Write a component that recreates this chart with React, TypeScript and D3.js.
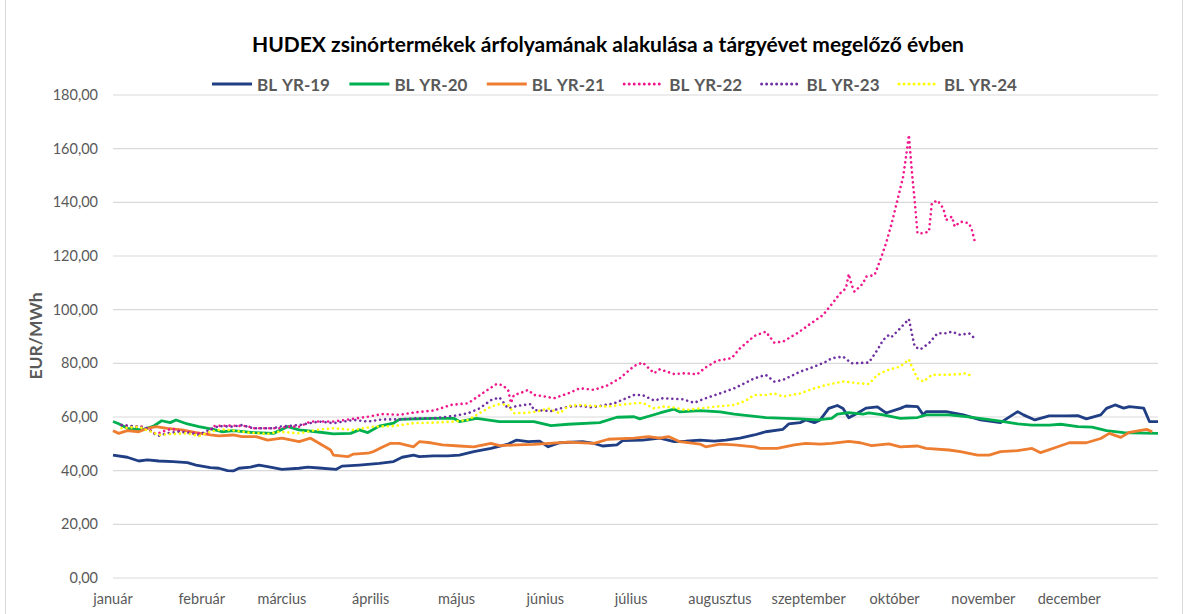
import React from 'react';
import * as d3 from 'd3';

// ---- data (day of year, EUR/MWh) ----
const months = ['január', 'február', 'március', 'április', 'május', 'június', 'július', 'augusztus', 'szeptember', 'október', 'november', 'december'];
const yTicks = [0, 20, 40, 60, 80, 100, 120, 140, 160, 180];

const yr19: [number, number][] = [
  [0, 45.8], [5, 45.0], [9, 43.6], [12, 44.0], [16, 43.6], [21, 43.4], [26, 43.0], [29, 42.1], [34, 41.1], [37, 40.9],
  [40, 40.0], [42, 39.9], [44, 40.9], [48, 41.3], [51, 42.1], [54, 41.5], [59, 40.5], [65, 40.9], [68, 41.3], [72, 41.0],
  [78, 40.5], [80, 41.7], [86, 42.1], [93, 42.7], [98, 43.4], [101, 45.0], [105, 45.8], [107, 45.2], [112, 45.5], [117, 45.5],
  [121, 45.8], [126, 47.1], [132, 48.3], [138, 49.9], [141, 51.4], [145, 50.8], [149, 51.0], [152, 48.9], [156, 50.4], [164, 50.8],
  [168, 50.2], [171, 49.2], [176, 49.6], [178, 51.2], [185, 51.4], [191, 52.1], [196, 50.8], [200, 51.0], [205, 51.4], [210, 51.0],
  [214, 51.4], [219, 52.1], [224, 53.3], [228, 54.5], [234, 55.4], [236, 57.4], [240, 57.9], [242, 58.9], [245, 57.9], [247, 58.9],
  [250, 63.2], [253, 64.3], [255, 63.2], [257, 59.7], [260, 61.4], [263, 63.3], [267, 63.8], [270, 61.5], [275, 63.2], [277, 64.1],
  [281, 63.9], [283, 60.8], [284, 62.0], [291, 62.0], [297, 60.8], [303, 58.9], [310, 57.9], [316, 62.0], [318, 60.8], [322, 58.9],
  [327, 60.4], [333, 60.4], [337, 60.5], [340, 59.3], [345, 60.8], [347, 63.2], [350, 64.5], [353, 63.3], [355, 63.9], [360, 63.3],
  [362, 58.3], [365, 58.3],
];

const yr20: [number, number][] = [
  [0, 58.3], [2, 57.5], [5, 55.8], [10, 55.2], [14, 56.5], [17, 58.6], [20, 57.9], [22, 58.9], [26, 57.4], [30, 56.4],
  [35, 55.4], [38, 54.5], [42, 54.9], [49, 54.2], [56, 53.9], [61, 56.4], [65, 55.2], [71, 54.5], [77, 53.7], [83, 53.9],
  [86, 55.2], [89, 54.2], [93, 56.6], [98, 57.7], [100, 59.1], [112, 59.5], [119, 59.5], [121, 58.3], [127, 59.5], [135, 58.3],
  [147, 58.3], [153, 56.8], [159, 57.3], [170, 57.9], [176, 59.9], [182, 60.1], [184, 59.3], [191, 61.5], [196, 62.9], [198, 61.9],
  [205, 62.4], [212, 61.9], [217, 61.1], [228, 59.8], [240, 59.3], [246, 58.9], [251, 59.5], [253, 61.1], [257, 61.6], [262, 61.1],
  [264, 61.5], [269, 60.8], [275, 59.5], [281, 59.8], [284, 60.8], [292, 60.8], [298, 60.1], [304, 59.3], [310, 58.5], [316, 57.4],
  [321, 57.0], [327, 57.0], [331, 57.3], [337, 56.4], [342, 56.2], [347, 54.9], [353, 54.2], [356, 54.1], [365, 53.9],
];

const yr21: [number, number][] = [
  [0, 54.9], [2, 53.9], [5, 54.9], [9, 54.5], [12, 55.8], [15, 56.4], [19, 55.8], [24, 55.2], [29, 54.2], [34, 53.3],
  [37, 53.0], [42, 53.3], [45, 52.7], [50, 52.7], [54, 51.4], [59, 52.1], [65, 50.8], [69, 52.1], [72, 50.2], [76, 47.7],
  [77, 45.8], [82, 45.2], [84, 46.2], [89, 46.5], [91, 47.1], [94, 48.7], [97, 50.2], [100, 50.2], [105, 48.9], [107, 50.8],
  [111, 50.4], [115, 49.6], [121, 49.2], [126, 48.9], [132, 50.2], [135, 49.3], [141, 49.6], [147, 49.8], [159, 50.6], [168, 50.2],
  [173, 51.7], [182, 52.1], [187, 52.7], [191, 52.1], [194, 52.7], [198, 50.8], [205, 49.9], [207, 48.9], [212, 49.9], [217, 49.6],
  [224, 48.9], [226, 48.3], [232, 48.3], [238, 49.6], [242, 50.2], [247, 49.9], [251, 50.2], [257, 50.9], [261, 50.4], [265, 49.3],
  [271, 50.0], [275, 48.9], [281, 49.2], [284, 48.3], [292, 47.7], [296, 47.1], [302, 45.8], [306, 45.8], [310, 47.1], [316, 47.5],
  [321, 48.3], [324, 46.7], [330, 48.9], [334, 50.4], [340, 50.4], [345, 52.0], [348, 53.9], [352, 52.4], [355, 54.3], [361, 55.4],
  [363, 54.5],
];

const yr22: [number, number][] = [
  [3, 57.0], [7, 56.4], [10, 56.4], [13, 55.2], [14, 54.0], [16, 54.0], [19, 55.2], [21, 55.5], [24, 54.5], [27, 54.2],
  [30, 53.9], [33, 53.7], [35, 56.6], [41, 56.8], [47, 56.6], [49, 55.8], [58, 55.8], [61, 56.4], [65, 56.4], [69, 58.3],
  [77, 58.3], [89, 60.1], [94, 61.1], [100, 60.8], [106, 61.8], [112, 62.4], [118, 64.5], [124, 65.1], [129, 68.8], [134, 72.3],
  [136, 71.9], [138, 70.1], [139, 65.2], [140, 68.2], [142, 68.8], [145, 70.1], [147, 68.2], [150, 67.8], [154, 67.0], [159, 68.8],
  [163, 70.7], [168, 70.1], [173, 71.9], [177, 74.4], [182, 79.0], [185, 80.3], [189, 76.3], [191, 77.8], [196, 76.0], [200, 76.3],
  [204, 75.9], [207, 78.5], [211, 81.0], [216, 81.9], [219, 85.6], [224, 90.2], [228, 91.8], [231, 87.7], [234, 88.1], [239, 91.2],
  [243, 94.3], [248, 98.0], [251, 102.0], [254, 106.1], [256, 108.0], [257, 113.3], [258, 109.2], [259, 106.7], [262, 109.8], [263, 112.3],
  [266, 112.9], [268, 118.5], [270, 124.7], [272, 132.2], [274, 140.9], [276, 149.6], [277, 157.1], [278, 165.1], [279, 151.8], [280, 140.9],
  [281, 128.5], [283, 128.5], [285, 129.1], [286, 139.7], [288, 140.7], [290, 137.8], [291, 133.4], [293, 134.7], [294, 131.0], [296, 132.8],
  [299, 132.2], [300, 129.7], [301, 125.4],
];

const yr23: [number, number][] = [
  [3, 57.0], [7, 56.6], [12, 55.8], [14, 54.0], [16, 53.0], [19, 54.0], [23, 54.5], [27, 54.0], [30, 53.3], [34, 55.4],
  [37, 56.6], [42, 56.4], [45, 57.0], [49, 55.8], [56, 55.8], [58, 56.4], [65, 57.0], [72, 58.3], [77, 57.7], [84, 58.9],
  [89, 58.3], [94, 59.1], [100, 59.1], [106, 59.5], [112, 59.5], [119, 60.4], [124, 61.4], [128, 63.2], [132, 66.3], [135, 67.3],
  [138, 63.2], [141, 64.1], [146, 64.8], [147, 62.6], [153, 62.2], [156, 63.2], [160, 63.9], [163, 64.1], [167, 63.6], [170, 64.1],
  [175, 65.1], [182, 68.2], [185, 68.2], [189, 66.1], [192, 67.0], [199, 66.6], [203, 65.3], [207, 67.0], [212, 68.8], [217, 70.7],
  [221, 72.8], [224, 74.4], [228, 75.7], [231, 73.2], [234, 73.8], [240, 76.9], [245, 78.8], [249, 80.6], [251, 81.9], [255, 82.5],
  [258, 80.0], [264, 80.3], [267, 85.0], [269, 88.7], [271, 90.6], [272, 89.9], [275, 93.1], [278, 96.5], [279, 91.2], [280, 86.2],
  [282, 85.2], [285, 87.5], [288, 91.2], [291, 91.2], [293, 91.8], [296, 90.6], [299, 91.2], [301, 89.3],
];

const yr24: [number, number][] = [
  [3, 55.8], [9, 56.4], [14, 54.2], [16, 53.3], [21, 53.7], [26, 53.9], [30, 52.9], [34, 54.5], [38, 55.4], [42, 55.0],
  [47, 54.2], [54, 53.7], [58, 54.5], [65, 53.9], [71, 55.2], [77, 55.8], [84, 55.2], [91, 56.4], [98, 56.6], [105, 57.7],
  [112, 57.9], [119, 58.3], [124, 58.9], [128, 61.4], [132, 63.9], [135, 64.8], [138, 64.5], [140, 61.4], [145, 61.6], [148, 62.0],
  [152, 63.2], [156, 61.4], [159, 64.1], [163, 64.5], [168, 64.1], [173, 63.9], [177, 64.5], [182, 65.1], [185, 65.3], [189, 63.2],
  [192, 63.9], [196, 63.5], [200, 62.6], [205, 63.2], [211, 63.9], [217, 64.5], [221, 66.1], [224, 68.2], [228, 68.2], [231, 68.8],
  [234, 67.6], [240, 68.8], [245, 70.7], [249, 71.9], [255, 73.2], [260, 72.6], [264, 72.3], [267, 75.7], [270, 77.3], [275, 78.8],
  [278, 81.5], [279, 78.8], [281, 74.4], [283, 73.2], [286, 75.7], [291, 75.7], [296, 76.0], [298, 76.3], [300, 75.1],
];

const seriesNames = ['BL YR-19', 'BL YR-20', 'BL YR-21', 'BL YR-22', 'BL YR-23', 'BL YR-24'];
const seriesData = [yr19, yr20, yr21, yr22, yr23, yr24];
const seriesColors = ['#1F3E84', '#00B050', '#ED7D31', '#F0168C', '#7030A0', '#FFFF00'];
const seriesDotted = [false, false, false, true, true, true];

const title = 'HUDEX zsinórtermékek árfolyamának alakulása a tárgyévet megelőző évben';
const yTitle = 'EUR/MWh';

export default function App() {
  const W = 1184;
  const H = 614;
  const left = 113, right = 1158, top = 95, bottom = 578;
  const start = new Date(2023, 0, 1);
  const end = new Date(2024, 0, 1);
  const x = d3.scaleTime().domain([start, end]).range([left, right]);
  const y = d3.scaleLinear().domain([0, 180]).range([bottom, top]);
  const toDate = (d: number) => d3.timeDay.offset(start, d);
  const line = d3.line<[number, number]>().x(d => x(toDate(d[0]))).y(d => y(d[1]));
  const fmt = (v: number) => d3.format('.2f')(v).replace('.', ',');
  const monthStarts = d3.timeMonths(start, end);
  const font = 'Lato, Carlito, Calibri, sans-serif';
  const legendX0 = 212;
  const legendStep = 137.4;

  return (
    <svg width={W} height={H} style={{ position: 'absolute', left: 0, top: 0, background: '#fff' }} fontFamily={font}>
      <rect x={0} y={0} width={W} height={H} fill="#fff" />
      <rect x={5.5} y={-1} width={1177} height={H + 2} fill="none" stroke="#D9D9D9" />
      <text x={608} y={52} textAnchor="middle" fontSize={21} fontWeight={700} fill="#000">{title}</text>

      {seriesNames.map((n, i) => {
        const lx = legendX0 + i * legendStep;
        return (
          <g key={n}>
            <line x1={lx} x2={lx + 40} y1={84} y2={84} stroke={seriesColors[i]} strokeWidth={3}
              strokeDasharray={seriesDotted[i] ? '0.01 5' : undefined} strokeLinecap={seriesDotted[i] ? 'round' : 'butt'} />
            <text x={lx + 45} y={90.5} fontSize={17} fontWeight={700} fill="#595959" wordSpacing={2}>{n}</text>
          </g>
        );
      })}

      {yTicks.map(t => (
        <g key={t}>
          <line x1={left} x2={right} y1={y(t)} y2={y(t)} stroke="#D9D9D9" strokeWidth={1.2} />
          <text x={98} y={y(t) + 5} textAnchor="end" fontSize={14.5} fill="#595959">{fmt(t)}</text>
        </g>
      ))}

      {monthStarts.map((m, i) => (
        <text key={i} x={x(m)} y={604} textAnchor="middle" fontSize={14.5} fill="#595959">{months[i]}</text>
      ))}

      <text transform={`translate(42,336) rotate(-90)`} textAnchor="middle" fontSize={17.5} fontWeight={700} fill="#595959">{yTitle}</text>

      {seriesData.map((d, i) => (
        <path key={i} d={line(d) || ''} fill="none" stroke={seriesColors[i]} strokeWidth={seriesDotted[i] ? 2.6 : 2.8}
          strokeDasharray={seriesDotted[i] ? '0.01 5' : undefined}
          strokeLinecap={seriesDotted[i] ? 'round' : 'butt'} strokeLinejoin="round" />
      ))}
    </svg>
  );
}
